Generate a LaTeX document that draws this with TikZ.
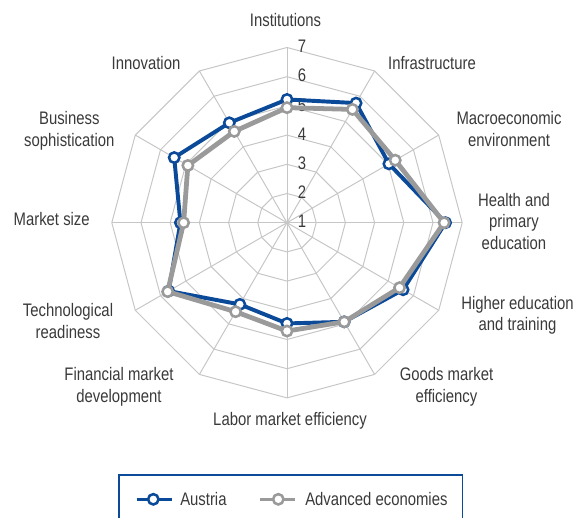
\documentclass[tikz,border=0pt]{standalone}
\usepackage{fontspec}
\setmainfont{Liberation Sans}[FakeStretch=0.82]
\definecolor{austria}{HTML}{0B4A99}
\definecolor{advanced}{HTML}{9A9A9A}
\definecolor{gridgray}{HTML}{C6C6C6}
\definecolor{labelgray}{HTML}{3A3A3A}

\begin{document}
\begin{tikzpicture}[x=0.025cm, y=0.025cm]
\tikzstyle{every node}=[text=labelgray, font=\fontsize{12.9}{15.4}\selectfont]
\tikzstyle{axislabel}=[align=center, inner sep=0pt]
\tikzstyle{amark}=[circle, draw=austria, fill=white, line width=1.8pt, minimum size=0.26cm, inner sep=0pt]
\tikzstyle{gmark}=[circle, draw=advanced, fill=white, line width=1.8pt, minimum size=0.26cm, inner sep=0pt]

\useasboundingbox (-287,-295.3) rectangle (291,222.7);

\coordinate (o) at (0,0);
\foreach \i in {0,...,11} {
\coordinate (ax\i) at ({90-30*\i}:175.2);
\draw[gridgray, line width=0.7pt] (o) -- (ax\i);
}
\foreach \r in {1,...,6}
\draw[gridgray, line width=0.7pt] (90:29.2*\r) \foreach \a in {60,30,...,-240} {-- (\a:29.2*\r)} -- cycle;

\foreach \v in {1,...,7}
\node (v\v) at (15,{29.2*(\v-1)+1}) {\v};

\foreach \x/\y/\t [count=\n] in {-1.5/202.2/Institutions, 145/160/Infrastructure,
  222/93.5/Macroeconomic\\environment, 227/1.4/Health and\\primary\\education,
  230.5/-92.6/Higher education\\and training, 159.5/-163.8/Goods market\\efficiency,
  3/-198.3/Labor market efficiency, -168/-163.8/Financial market\\development,
  -219/-98.5/Technological\\readiness, -235.3/3.4/Market size,
  -217.7/91.8/Business\\sophistication, -141/160/Innovation}
\node[axislabel] (lab\n) at (\x,\y) {\t};

\foreach \v [count=\i from 0] in {5.22,5.73,5.03,6.43,5.59,4.92,4.45,4.23,5.68,4.65,5.46,4.95}
\coordinate (a\i) at ({90-30*\i}:{29.2*(\v-1)});
\foreach \v [count=\i from 0] in {4.94,5.48,5.28,6.38,5.45,4.92,4.71,4.52,5.72,4.54,4.92,4.61}
\coordinate (g\i) at ({90-30*\i}:{29.2*(\v-1)});

\draw[austria, line width=2.8pt, line join=round] (a0) \foreach \i in {1,...,11} {-- (a\i)} -- cycle;
\foreach \i in {0,...,11} \node[amark] (am\i) at (a\i) {};
\draw[advanced, line width=3.4pt, line join=round] (g0) \foreach \i in {1,...,11} {-- (g\i)} -- cycle;
\foreach \i in {0,...,11} \node[gmark] (gm\i) at (g\i) {};

\draw[austria, line width=1pt] (-168,-300) -- (-168,-252.3) -- (175.3,-252.3) -- (175.3,-300);
\coordinate (la1) at (-150.3,-276.6);
\coordinate (la2) at (-115.3,-276.6);
\draw[austria, line width=2.3pt] (la1) -- (la2);
\node[amark] (lam) at (-133.7,-276.6) {};
\node[anchor=west, inner sep=0pt] (laus) at (-107,-276.6) {Austria};
\coordinate (lg1) at (-27,-276.6);
\coordinate (lg2) at (8,-276.6);
\draw[advanced, line width=2.3pt] (lg1) -- (lg2);
\node[gmark] (lgm) at (-8.7,-276.6) {};
\node[anchor=west, inner sep=0pt] (ladv) at (18,-276.6) {Advanced economies};

\end{tikzpicture}
\end{document}
